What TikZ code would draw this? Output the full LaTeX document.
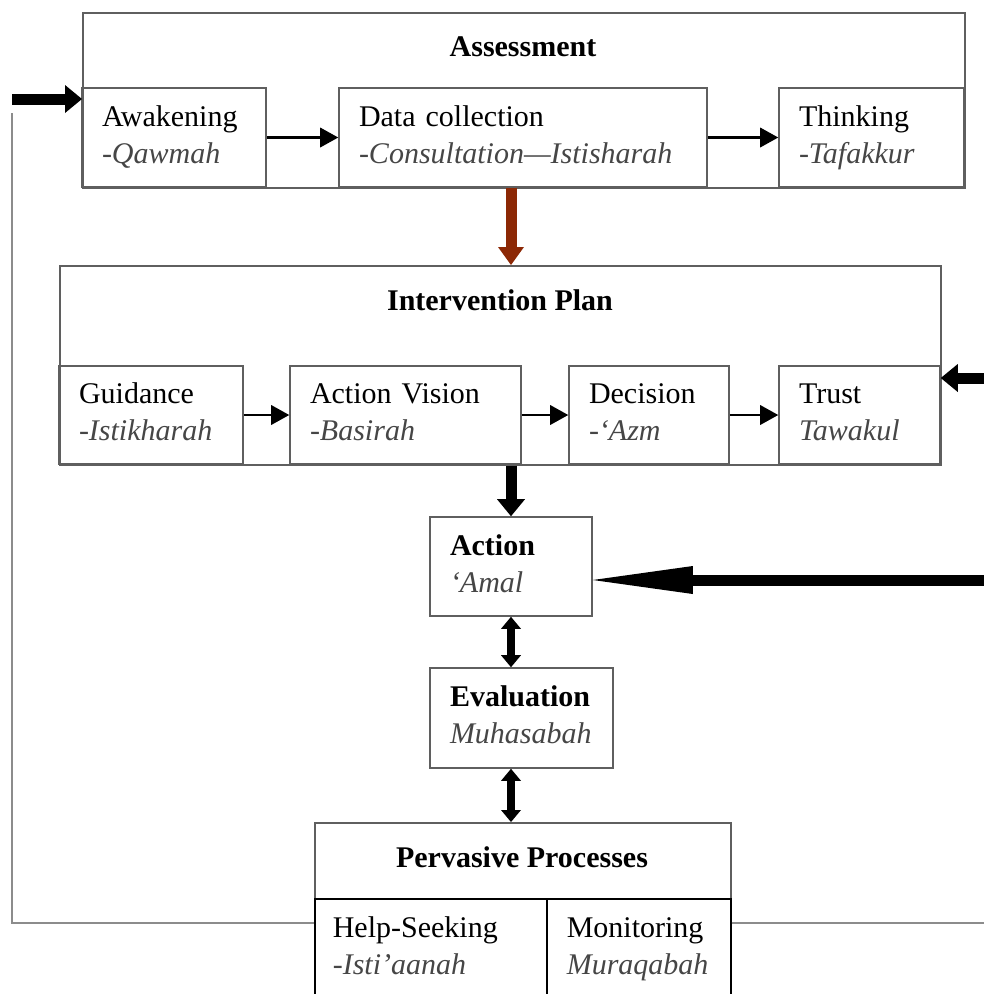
\documentclass[tikz,border=0pt]{standalone}
\usepackage{fontspec}
\setmainfont{Liberation Serif}
\usetikzlibrary{arrows.meta}
\definecolor{boxgray}{RGB}{95,95,95}
\definecolor{itgray}{RGB}{70,70,70}
\definecolor{arrowbrown}{RGB}{140,40,5}
\newcommand{\arab}[1]{\textcolor{itgray}{\textit{#1}}\strut}
\hyphenpenalty=10000

\begin{document}
\begin{tikzpicture}[x=1pt, y=-1pt, font=\fontsize{30}{37}\selectfont,
    box/.style={draw=boxgray, line width=1.6pt, inner sep=0pt},
    ibox/.style={box, minimum height=99pt, inner xsep=20pt, align=left},
    headtext/.style={font=\fontsize{30}{37}\selectfont\bfseries},
    flowarrow/.style={line width=2.5pt, -{Triangle[length=18pt,width=20pt,line width=0pt]}},
    heavyarrow/.style={line width=11pt, -{Triangle[length=17pt,width=28pt,line width=0pt]}},
    twoway/.style={line width=8pt, {Triangle[length=12pt,width=20pt,line width=0pt]}-{Triangle[length=12pt,width=20pt,line width=0pt]}},
    brownarrow/.style={draw=arrowbrown, line width=11pt, -{Triangle[length=18pt,width=26pt,line width=0pt]}},
    bigarrow/.style={line width=11pt, -{Triangle[length=100pt,width=28pt,line width=0pt]}},
    fbline/.style={draw=black!45, line width=1.8pt}]
    \useasboundingbox (0,0) rectangle (984,994);
    \clip (0,0) rectangle (984,994);

    % assessment
    \node[box, minimum width=882pt, minimum height=175pt, anchor=north west] (assess) at (82,12) {};
    \node[headtext] (assesst) at (523,47) {Assessment};
    \node[ibox, text width=144pt] (awak) at (174,137.5) {\strut Awakening\\\arab{-Qawmah}};
    \node[ibox, text width=328pt] (datac) at (523,137.5) {\strut Data collection\\\arab{-Consultation---Istisharah}};
    \node[ibox, text width=145pt] (think) at (871.5,137.5) {\strut Thinking\\\arab{-Tafakkur}};
    \draw[flowarrow] (awak.east) -- (datac.west);
    \draw[flowarrow] (datac.east) -- (think.west);

    % intervention plan
    \node[box, minimum width=881pt, minimum height=199pt, anchor=north west] (interv) at (59,265) {};
    \node[headtext] (intervt) at (500,300) {Intervention Plan};
    \node[ibox, text width=144pt, minimum height=98pt] (guid) at (151,415) {\strut Guidance\\\arab{-Istikharah}};
    \node[ibox, text width=191pt, minimum height=98pt] (avis) at (405.5,415) {\strut Action Vision\\\arab{-Basirah}};
    \node[ibox, text width=120pt, minimum height=98pt] (deci) at (649,415) {\strut Decision\\\arab{-`Azm}};
    \node[ibox, text width=121pt, minimum height=98pt] (trust) at (859.5,415) {\strut Trust\\\arab{Tawakul}};
    \draw[flowarrow] (guid.east) -- (avis.west);
    \draw[flowarrow] (avis.east) -- (deci.west);
    \draw[flowarrow] (deci.east) -- (trust.west);

    % action and evaluation
    \node[ibox, text width=122pt] (action) at (511,566.5) {\strut\textbf{Action}\\\arab{`Amal}};
    \node[ibox, text width=143pt, minimum height=100pt] (evalu) at (521.5,718) {\strut\textbf{Evaluation}\\\arab{Muhasabah}};

    % pervasive processes
    \node[box, minimum width=416pt, minimum height=176pt, anchor=north west] (pervas) at (314,822) {};
    \node[headtext] (pervast) at (522,857) {Pervasive Processes};
    \node[ibox, draw=black, text width=196pt, inner xsep=18pt, minimum height=100pt, anchor=north west] (helps) at (314,898) {\strut Help-Seeking\\\arab{-Isti'aanah}};
    \node[ibox, draw=black, text width=144pt, minimum height=100pt, anchor=north west] (monit) at (546,898) {\strut Monitoring\\\arab{Muraqabah}};

    \draw[brownarrow] (action |- datac.south) -- (action |- interv.north);
    \draw[heavyarrow] (action |- interv.south) -- (action.north);
    \draw[twoway] (action.south) -- (action |- evalu.north);
    \draw[twoway] (action |- evalu.south) -- (action |- pervas.north);

    % feedback loop and inputs
    \coordinate (fbin) at (12,99);
    \coordinate (fbtop) at (12,113);
    \coordinate (fbcorner) at (12,923);
    \coordinate (fbright) at (984,923);
    \coordinate (trustin) at (984,378);
    \coordinate (actin) at (984,580);
    \draw[fbline] (pervas.west |- fbcorner) -- (fbcorner) -- (fbtop);
    \draw[fbline] (pervas.east |- fbright) -- (fbright);
    \draw[heavyarrow] (fbin) -- (fbin -| assess.west);
    \draw[heavyarrow] (trustin) -- (trustin -| trust.east);
    \draw[bigarrow] (actin) -- (actin -| action.east);
\end{tikzpicture}
\end{document}
